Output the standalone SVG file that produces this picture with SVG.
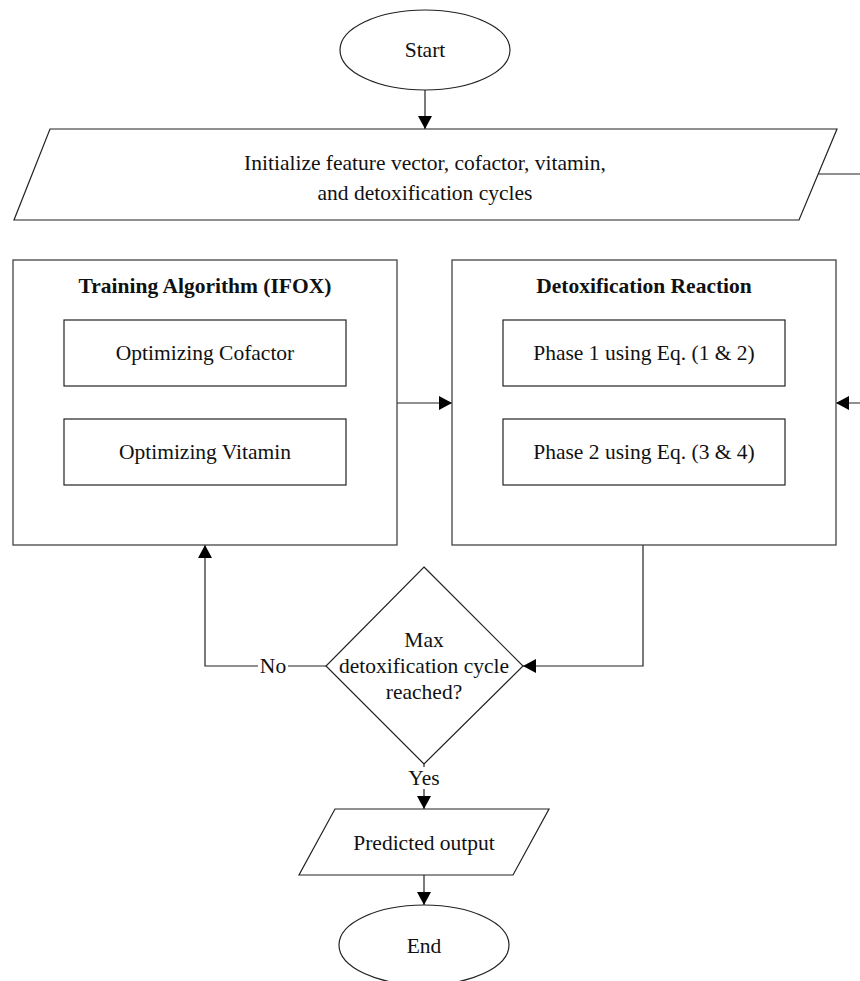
<svg xmlns="http://www.w3.org/2000/svg" width="860" height="981" viewBox="0 0 860 981">
<defs>
<marker id="arr" markerUnits="userSpaceOnUse" markerWidth="14" markerHeight="14" refX="13" refY="7" orient="auto">
<path d="M0,0 L13,7 L0,14 Z" fill="#000"/>
</marker>
<style>
.sh{fill:#fff;stroke:#222;stroke-width:1.2}
.box{fill:#fff;stroke:#444;stroke-width:1.3}
.t{font-family:"Liberation Serif","Times New Roman",serif;font-size:21.5px;fill:#111;text-anchor:middle}
.b{font-weight:bold}
.c{fill:none;stroke:#222;stroke-width:1.2}
</style>
</defs>
<rect width="860" height="981" fill="#fff"/>
<g id="connectors">
<path class="c" d="M425,90 L425,129" marker-end="url(#arr)"/>
<path class="c" d="M818,174 L875,174 L875,403 L836,403" marker-end="url(#arr)"/>
<path class="c" d="M397,403 L452,403" marker-end="url(#arr)"/>
<path class="c" d="M643,545 L643,666 L523,666" marker-end="url(#arr)"/>
<path class="c" d="M326,666 L205,666 L205,545" marker-end="url(#arr)"/>
<path class="c" d="M424,764 L424,809" marker-end="url(#arr)"/>
<path class="c" d="M424,875 L424,905" marker-end="url(#arr)"/>
<rect x="258" y="654" width="30" height="24" fill="#fff"/>
<text class="t" x="273" y="673">No</text>
<rect x="408" y="767" width="32" height="22" fill="#fff"/>
<text class="t" x="424" y="785">Yes</text>
</g>
<g id="start">
<ellipse class="sh" cx="425" cy="50" rx="85" ry="40"/>
<text class="t" x="425" y="57">Start</text>
</g>
<g id="init">
<polygon class="sh" points="50,129 837,129 799,220 14,220"/>
<text class="t" x="425" y="170">Initialize feature vector, cofactor, vitamin,</text>
<text class="t" x="425" y="200">and detoxification cycles</text>
</g>
<g id="training">
<rect class="box" x="13" y="260" width="384" height="285"/>
<text class="t b" x="205" y="293">Training Algorithm (IFOX)</text>
</g>
<g id="cofactor">
<rect class="sh" x="64" y="320" width="282" height="66"/>
<text class="t" x="205" y="360">Optimizing Cofactor</text>
</g>
<g id="vitamin">
<rect class="sh" x="64" y="419" width="282" height="66"/>
<text class="t" x="205" y="459">Optimizing Vitamin</text>
</g>
<g id="detox">
<rect class="box" x="452" y="260" width="384" height="285"/>
<text class="t b" x="644" y="293">Detoxification Reaction</text>
</g>
<g id="phase1">
<rect class="sh" x="503" y="320" width="282" height="66"/>
<text class="t" x="644" y="360">Phase 1 using Eq. (1 &amp; 2)</text>
</g>
<g id="phase2">
<rect class="sh" x="503" y="419" width="282" height="66"/>
<text class="t" x="644" y="459">Phase 2 using Eq. (3 &amp; 4)</text>
</g>
<g id="decision">
<polygon class="sh" points="424,567 523,666 424,764 326,666"/>
<text class="t" x="424" y="647">Max</text>
<text class="t" x="424" y="673">detoxification cycle</text>
<text class="t" x="424" y="699">reached?</text>
</g>
<g id="output">
<polygon class="sh" points="335,809 549,809 513,875 299,875"/>
<text class="t" x="424" y="850">Predicted output</text>
</g>
<g id="end">
<ellipse class="sh" cx="424" cy="945" rx="85" ry="40"/>
<text class="t" x="424" y="953">End</text>
</g>
</svg>
